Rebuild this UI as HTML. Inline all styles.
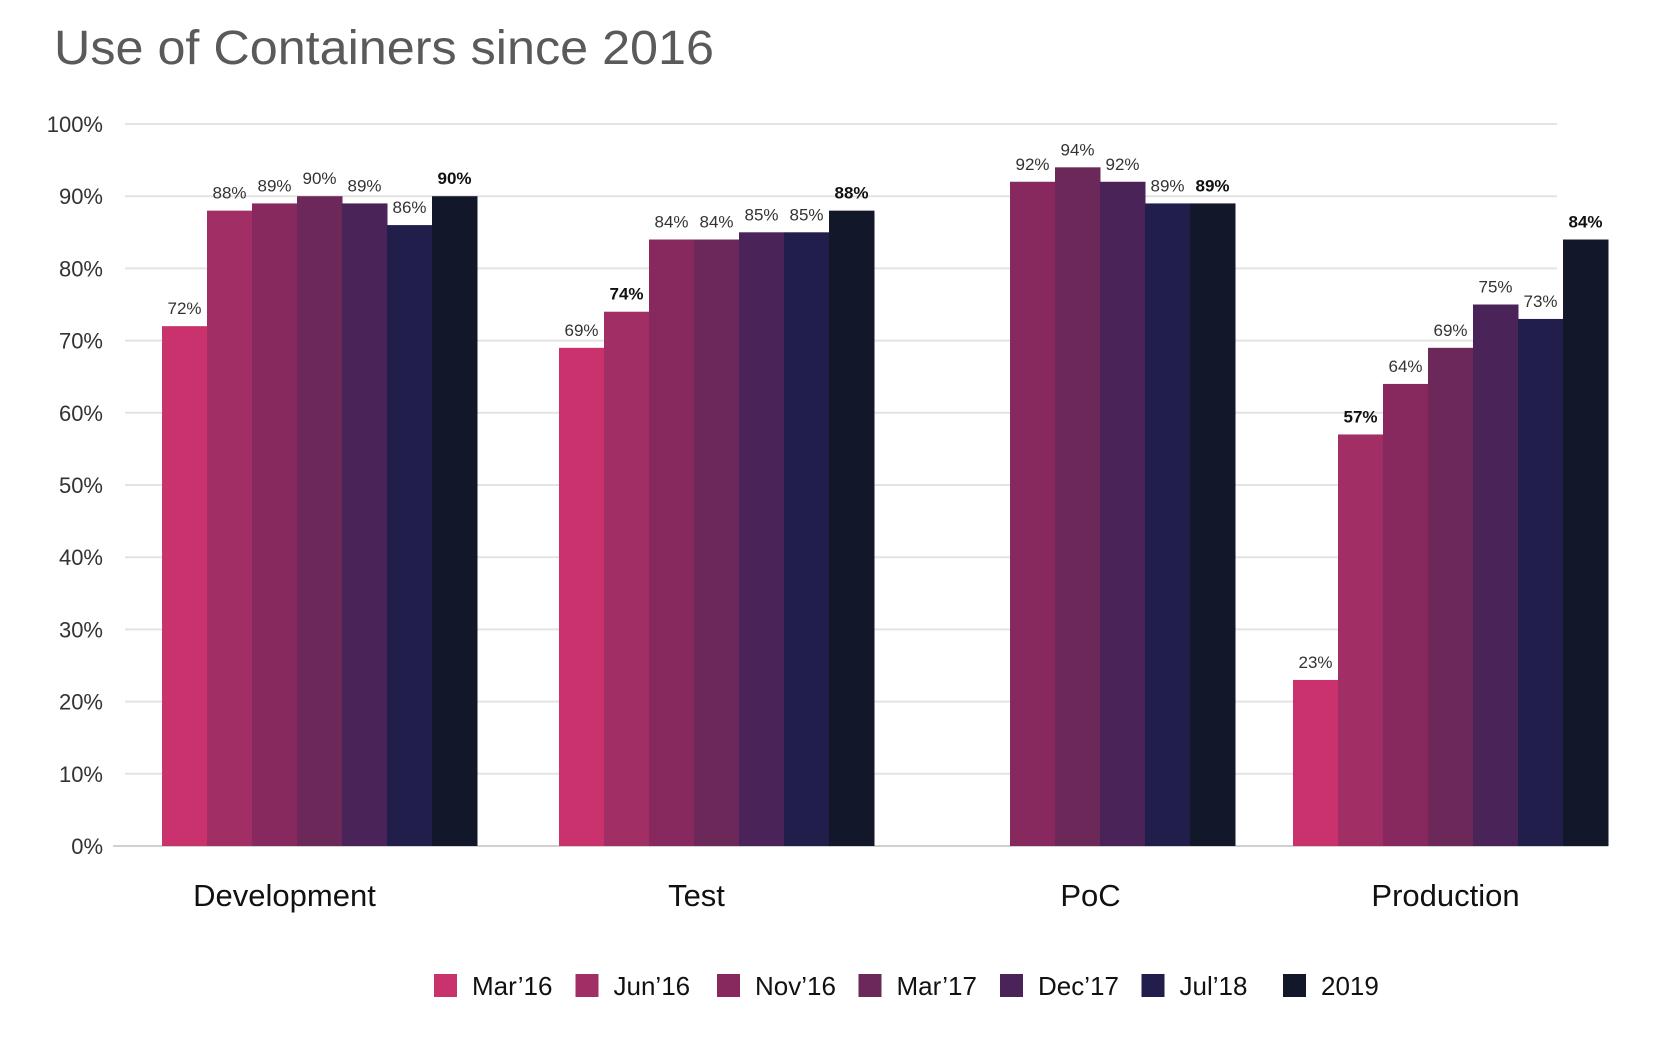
<!DOCTYPE html>
<html><head><meta charset="utf-8"><style>
html,body{margin:0;padding:0;background:#fff;}
svg{display:block;font-family:"Liberation Sans",sans-serif;}
</style></head><body>
<svg id="chart" width="1656" height="1052" viewBox="0 0 1656 1052">
<text x="54" y="64" font-size="48" fill="#5a5a5a" textLength="660" lengthAdjust="spacingAndGlyphs">Use of Containers since 2016</text>
<g id="grid"></g><g id="bars"></g><g id="labels"></g><g id="legend"></g>
</svg>
<script>
const categories = ["Development","Test","PoC","Production"];
const seriesNames = ["Mar’16","Jun’16","Nov’16","Mar’17","Dec’17","Jul’18","2019"];
const seriesColors = ["#c9326c","#a12e64","#87295f","#6b2859","#4a2459","#221e4b","#12182a"];
const valMar16 = [72,69,null,23];
const valJun16 = [88,74,null,57];
const valNov16 = [89,84,92,64];
const valMar17 = [90,84,94,69];
const valDec17 = [89,85,92,75];
const valJul18 = [86,85,89,73];
const val2019 = [90,88,89,84];
const boldLabels = [[false,false,false,false],[false,true,false,true],[false,false,false,false],[false,false,false,false],[false,false,false,false],[false,false,false,false],[true,true,true,true]];
const yTicks = [0,10,20,30,40,50,60,70,80,90,100];
const series = [valMar16,valJun16,valNov16,valMar17,valDec17,valJul18,val2019];
const NS="http://www.w3.org/2000/svg";
const y0=846, y100=124;
function y(v){return y0-(y0-y100)*v/100;}
const groupStart=[162,559,920,1293];
const catLabelShift=[-35,-20,13,-5];
const barW=45;
function xBar(ci,si){return groupStart[ci]+si*barW;}
function mk(tag,attrs,parent){const e=document.createElementNS(NS,tag);for(const k in attrs)e.setAttribute(k,attrs[k]);parent.appendChild(e);return e;}
const grid=document.getElementById('grid');
yTicks.forEach(t=>{
  const l=mk('line',{x1:t===0?113:125,x2:t===0?1608:1557,y1:y(t),y2:y(t),stroke:t===0?'#d0d0d0':'#e3e3e3','stroke-width':2},grid);
  
  
  const tx=mk('text',{x:103,y:y(t)+8,'text-anchor':'end','font-size':22,fill:'#333'},grid);
  tx.textContent=t+'%';
  
  
});
const bars=document.getElementById('bars'), labels=document.getElementById('labels');
categories.forEach((c,ci)=>{
  series.forEach((s,si)=>{
    const v=s[ci]; if(v==null) return;
    const r=mk('rect',{x:xBar(ci,si),y:y(v),width:barW+0.5,height:y0-y(v),fill:seriesColors[si]},bars);
    
    
    const b=boldLabels[si][ci];
    const t=mk('text',{x:xBar(ci,si)+barW/2,y:y(v)-12,'text-anchor':'middle','font-size':17,fill:b?'#111':'#333','font-weight':b?'bold':'normal'},labels);
    t.textContent=v+'%';
    
    
  });
  const ct=mk('text',{x:xBar(ci,0)+barW*3.5+catLabelShift[ci],y:906,'text-anchor':'middle','font-size':31,fill:'#111'},labels);
  ct.textContent=c;
  
  
});
const lg=document.getElementById('legend');
seriesNames.forEach((n,i)=>{
  const g=mk('g',{},lg);
  
  
  const x=434+i*141.5;
  mk('rect',{x:x,y:974,width:23,height:23,fill:seriesColors[i]},g);
  const t=mk('text',{x:x+38,y:995,'font-size':26,fill:'#111'},g);
  t.textContent=n;
});
</script>
</body></html>
